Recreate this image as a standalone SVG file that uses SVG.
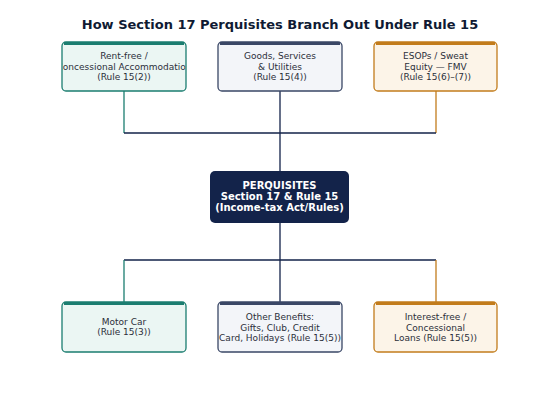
<svg xmlns="http://www.w3.org/2000/svg" width="560" height="394" viewBox="0 0 560 394">
<style>
.t{font-family:"DejaVu Sans",sans-serif;font-size:9px;fill:#2b2f3a;text-anchor:middle}
.c{font-family:"DejaVu Sans",sans-serif;font-size:10px;font-weight:bold;fill:#ffffff;text-anchor:middle}
.title{font-family:"DejaVu Sans",sans-serif;font-size:13px;font-weight:bold;fill:#0f1a33;text-anchor:middle}
.teal{fill:#ebf6f3;stroke:#1b7d70;stroke-width:1.3}
.navy{fill:#f3f5f9;stroke:#3a4766;stroke-width:1.3}
.orng{fill:#fcf4e8;stroke:#c27c1c;stroke-width:1.3}
.bt{stroke:#1b7d70;stroke-width:3;fill:none}
.bn{stroke:#3a4766;stroke-width:3;fill:none}
.bo{stroke:#c27c1c;stroke-width:3;fill:none}
.ln{fill:none;stroke-width:1.3}
</style>
<defs>
<clipPath id="clipRent"><rect x="62.5" y="42" width="123" height="49"/></clipPath>
</defs>
<rect width="560" height="394" fill="#ffffff"/>
<text class="title" x="280" y="29">How Section 17 Perquisites Branch Out Under Rule 15</text>
<g id="connectors">
<path class="ln" stroke="#1b7d70" d="M124 91V133"/>
<path class="ln" stroke="#13234a" d="M280 91V133"/>
<path class="ln" stroke="#c27c1c" d="M436 91V133"/>
<path class="ln" stroke="#13234a" d="M124 133H436M280 133V171M280 223V260M124 260H436"/>
<path class="ln" stroke="#1b7d70" d="M124 260V302"/>
<path class="ln" stroke="#13234a" d="M280 260V302"/>
<path class="ln" stroke="#c27c1c" d="M436 260V302"/>
</g>
<g id="n-rent">
<rect class="teal" x="62" y="42" width="124" height="49" rx="4"/>
<path class="bt" d="M64 43.5H184"/>
<g clip-path="url(#clipRent)">
<text class="t" x="124" y="59">Rent-free /</text>
<text class="t" x="124" y="69.5">Concessional Accommodation</text>
<text class="t" x="124" y="80">(Rule 15(2))</text>
</g>
</g>
<g id="n-goods">
<rect class="navy" x="218" y="42" width="124" height="49" rx="4"/>
<path class="bn" d="M220 43.5H340"/>
<text class="t" x="280" y="59">Goods, Services</text>
<text class="t" x="280" y="69.5">&amp; Utilities</text>
<text class="t" x="280" y="80">(Rule 15(4))</text>
</g>
<g id="n-esop">
<rect class="orng" x="374" y="42" width="123" height="49" rx="4"/>
<path class="bo" d="M376 43.5H495"/>
<text class="t" x="435.5" y="59">ESOPs / Sweat</text>
<text class="t" x="435.5" y="69.5">Equity — FMV</text>
<text class="t" x="435.5" y="80">(Rule 15(6)–(7))</text>
</g>
<g id="n-center">
<rect x="210" y="171" width="139" height="52" rx="5" fill="#13234a"/>
<text class="c" x="279.5" y="189">PERQUISITES</text>
<text class="c" x="279.5" y="200">Section 17 &amp; Rule 15</text>
<text class="c" x="279.5" y="211">(Income-tax Act/Rules)</text>
</g>
<g id="n-car">
<rect class="teal" x="62" y="302" width="124" height="50" rx="4"/>
<path class="bt" d="M64 303.5H184"/>
<text class="t" x="124" y="325">Motor Car</text>
<text class="t" x="124" y="335">(Rule 15(3))</text>
</g>
<g id="n-other">
<rect class="navy" x="218" y="302" width="124" height="50" rx="4"/>
<path class="bn" d="M220 303.5H340"/>
<text class="t" x="280" y="320">Other Benefits:</text>
<text class="t" x="280" y="330.5">Gifts, Club, Credit</text>
<text class="t" x="280" y="341">Card, Holidays (Rule 15(5))</text>
</g>
<g id="n-loans">
<rect class="orng" x="374" y="302" width="123" height="50" rx="4"/>
<path class="bo" d="M376 303.5H495"/>
<text class="t" x="435.5" y="320">Interest-free /</text>
<text class="t" x="435.5" y="330.5">Concessional</text>
<text class="t" x="435.5" y="341">Loans (Rule 15(5))</text>
</g>
</svg>
